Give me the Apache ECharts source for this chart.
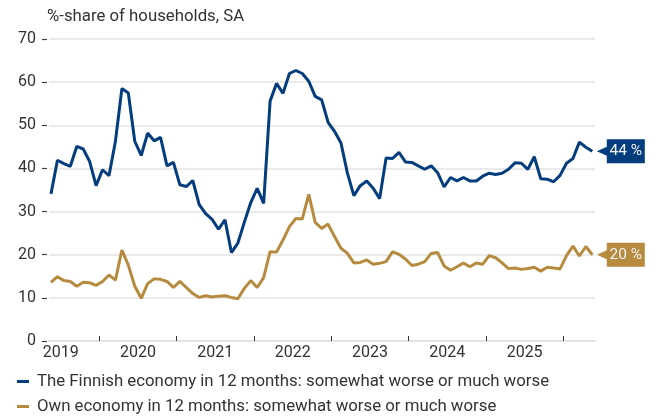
<!DOCTYPE html>
<html>
<head>
<meta charset="utf-8">
<script src="https://cdn.jsdelivr.net/npm/echarts@6/dist/echarts.min.js"></script>
<style>
  html, body { margin: 0; padding: 0; background: #ffffff; }
  #chart { width: 655px; height: 419px; }
</style>
</head>
<body>
<div id="chart"></div>
<script>
// Monthly survey readings, May 2019 – May 2026 (seasonally adjusted, % of households)
const firstMonth = '2019-05';
const monthCount = 85;

const finnishEconomyWorse = [
  34.1, 41.9, 41.1, 40.5, 45.1, 44.5, 41.6, 36.0,
  39.7, 38.3, 46.3, 58.5, 57.5, 46.3, 43.0, 48.2, 46.4, 47.2, 40.6, 41.4,
  36.2, 35.8, 37.2, 31.6, 29.5, 28.2, 25.9, 28.1, 20.5, 22.7, 27.5, 32.1,
  35.4, 31.9, 55.6, 59.7, 57.4, 62.0, 62.7, 62.0, 60.2, 56.7, 55.9, 50.7,
  48.6, 45.9, 38.9, 33.7, 36.0, 37.1, 35.4, 33.0, 42.4, 42.3, 43.7, 41.5,
  41.4, 40.6, 39.8, 40.6, 39.0, 35.7, 37.9, 37.1, 37.9, 37.1, 37.1, 38.2,
  38.9, 38.6, 38.9, 39.8, 41.3, 41.2, 39.8, 42.7, 37.6, 37.5, 36.9, 38.4,
  41.2, 42.3, 46.1, 44.9, 44
];

const ownEconomyWorse = [
  13.6, 14.9, 14.0, 13.8, 12.7, 13.6, 13.5, 12.9,
  13.8, 15.3, 14.1, 21.1, 17.6, 12.7, 9.9, 13.3, 14.4, 14.3, 13.8, 12.4,
  13.8, 12.4, 11.0, 10.1, 10.5, 10.2, 10.4, 10.5, 10.1, 9.8, 12.2, 14.0,
  12.4, 14.7, 20.7, 20.6, 23.4, 26.5, 28.4, 28.3, 34.0, 27.5, 26.1, 27.1,
  24.2, 21.5, 20.3, 18.1, 18.2, 18.8, 17.8, 18.0, 18.4, 20.7, 20.1, 19.0,
  17.5, 17.8, 18.4, 20.3, 20.5, 17.4, 16.4, 17.2, 18.1, 17.2, 18.1, 17.8,
  19.8, 19.3, 18.1, 16.8, 16.9, 16.6, 16.8, 17.1, 16.2, 17.1, 16.9, 16.7,
  19.8, 22.0, 19.7, 21.9, 20
];

const yearLabels = ['2019', '2020', '2021', '2022', '2023', '2024', '2025'];
const yTicks = [0, 10, 20, 30, 40, 50, 60, 70];

const seriesNames = [
  'The Finnish economy in 12 months: somewhat worse or much worse',
  'Own economy in 12 months: somewhat worse or much worse'
];

const BLUE = '#033d7e';
const GOLD = '#b78b3f';
const FONT = 'Roboto, "Liberation Sans", sans-serif';
const BASE_YEAR = 2019;

// Month labels 'YYYY-MM'
const months = [];
{
  let [y, m] = firstMonth.split('-').map(Number);
  for (let k = 0; k < monthCount; k++) {
    months.push(y + '-' + String(m).padStart(2, '0'));
    m++;
    if (m > 12) { m = 1; y++; }
  }
}

// Position on the x scale: months since Jan 2019, plotted at mid-month
function monthPos(label) {
  const [y, m] = label.split('-').map(Number);
  return (y - BASE_YEAR) * 12 + (m - 1) + 0.5;
}

function pairs(values) {
  return values.map((v, k) => [monthPos(months[k]), v]);
}

const yearBoundaries = yearLabels.map(y => (Number(y) + 1 - BASE_YEAR) * 12);
const yearCentres = yearLabels.map(y => (Number(y) - BASE_YEAR) * 12 + 6);

// Tag-shaped end label (pointer on the left)
const TAG_PATH = 'path://M0,12 L10,7.5 L10,0 L48,0 L48,24 L10,24 L10,16.5 Z';

function endTag(values, color) {
  const last = values.length - 1;
  return {
    silent: true,
    symbol: TAG_PATH,
    symbolSize: [48, 24],
    symbolOffset: [28.5, 0],
    itemStyle: { color: color },
    label: {
      show: true,
      position: 'inside',
      offset: [5, 0],
      color: '#f2f2f2',
      fontFamily: FONT,
      fontSize: 15.5,
      formatter: p => Math.round(p.value) + ' %'
    },
    data: [{ coord: [monthPos(months[last]), values[last]], value: values[last] }]
  };
}

function legendRow(name, top) {
  return {
    orient: 'horizontal',
    left: 17,
    top: top,
    padding: 0,
    icon: 'rect',
    itemWidth: 12,
    itemHeight: 3,
    textStyle: { fontFamily: FONT, fontSize: 16.8, color: '#333333', padding: [0, 0, 0, 3] },
    data: [name]
  };
}

const chart = echarts.init(document.getElementById('chart'), null, { renderer: 'canvas' });

chart.setOption({
  animation: false,
  backgroundColor: '#ffffff',
  textStyle: { fontFamily: FONT },
  title: {
    text: '%-share of households, SA',
    left: 47,
    top: 8,
    padding: 0,
    textStyle: { fontFamily: FONT, fontSize: 16.8, fontWeight: 'normal', color: '#333333' }
  },
  grid: { left: 49, right: 60, top: 39, bottom: 78 },
  xAxis: {
    type: 'value',
    min: 4.19,
    max: 88.92,
    axisLine: { show: true, lineStyle: { color: '#e3e3e3', width: 2 } },
    axisTick: {
      show: true,
      inside: true,
      length: 5,
      customValues: yearBoundaries,
      lineStyle: { color: '#333333', width: 1 }
    },
    axisLabel: {
      show: true,
      customValues: yearCentres,
      margin: 4,
      fontFamily: FONT,
      fontSize: 16,
      color: '#333333',
      formatter: v => String(BASE_YEAR + Math.floor(v / 12))
    },
    splitLine: { show: false }
  },
  yAxis: {
    type: 'value',
    min: yTicks[0],
    max: yTicks[yTicks.length - 1],
    interval: 10,
    offset: 2,
    axisLine: { show: false },
    axisTick: { show: true, length: 5, lineStyle: { color: '#444444', width: 1.2 } },
    axisLabel: { margin: 11, fontFamily: FONT, fontSize: 16, color: '#333333' },
    splitLine: { show: true, lineStyle: { color: '#e3e3e3', width: 1.5 } }
  },
  legend: [legendRow(seriesNames[0], 373), legendRow(seriesNames[1], 398)],
  series: [
    {
      name: seriesNames[0],
      type: 'line',
      data: pairs(finnishEconomyWorse),
      showSymbol: false,
      symbol: 'none',
      lineStyle: { color: BLUE, width: 3 },
      itemStyle: { color: BLUE },
      z: 3,
      markPoint: endTag(finnishEconomyWorse, BLUE)
    },
    {
      name: seriesNames[1],
      type: 'line',
      data: pairs(ownEconomyWorse),
      showSymbol: false,
      symbol: 'none',
      lineStyle: { color: GOLD, width: 3 },
      itemStyle: { color: GOLD },
      z: 2,
      markPoint: endTag(ownEconomyWorse, GOLD)
    }
  ]
});
</script>
</body>
</html>
